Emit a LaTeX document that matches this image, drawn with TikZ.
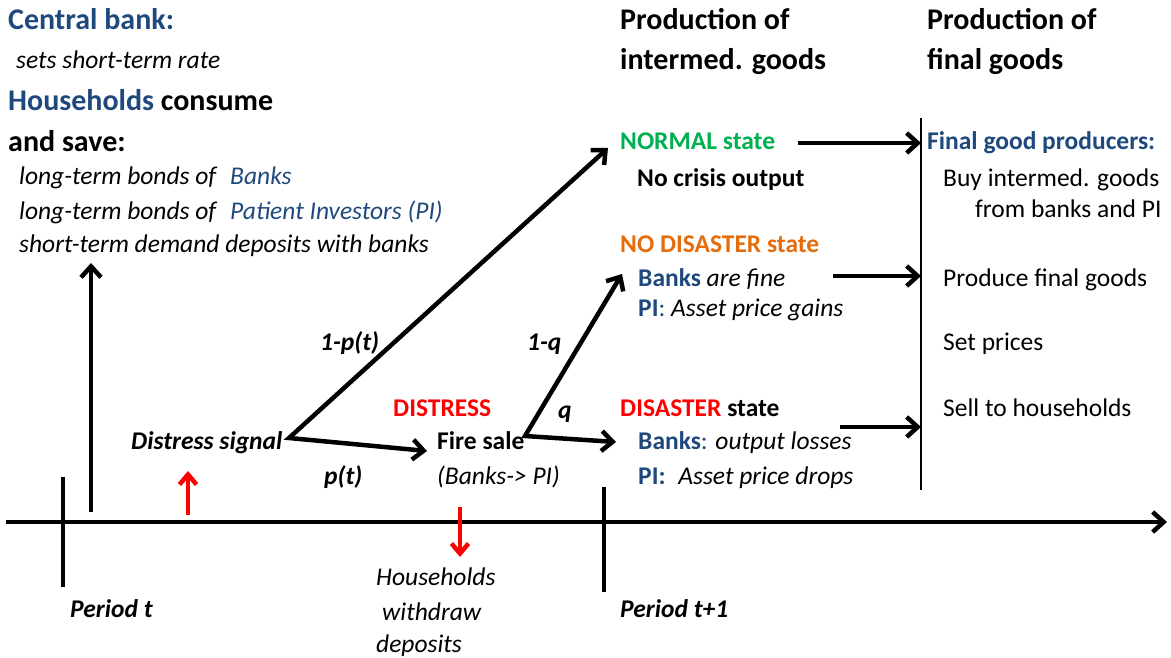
\documentclass[tikz,border=0pt]{standalone}
\usepackage{fontspec}
\setmainfont{Carlito}
\usetikzlibrary{arrows.meta}
\definecolor{dblue}{RGB}{31,73,125}
\definecolor{dgreen}{RGB}{0,176,80}
\definecolor{dorange}{RGB}{228,108,10}
\definecolor{dred}{RGB}{255,0,0}
\begin{document}
\begin{tikzpicture}[x=1pt,y=-1pt,
  txt/.style={anchor=base west,inner sep=0pt,font=\fontsize{25.5}{30}\selectfont},
  head/.style={anchor=base west,inner sep=0pt,font=\fontsize{30}{36}\selectfont\bfseries},
  arr/.style={line width=4.5pt,-{Straight Barb[length=11pt,width=20pt]}},
  arrboth/.style={line width=4.5pt,line join=miter,{Straight Barb[length=11pt,width=20pt]}-{Straight Barb[length=11pt,width=20pt]}},
  redarr/.style={line width=4.5pt,draw=dred,-{Straight Barb[length=10pt,width=17pt]}},
  tick/.style={line width=4pt},
  divider/.style={line width=2pt}]
\useasboundingbox (0,0) rectangle (1171,658);

% left column
\node[head] (cb) at (8,30) {\color{dblue}Central bank:};
\node[txt,font=\fontsize{25.5}{30}\selectfont\itshape] (sets) at (16,69) {sets short-term rate};
\node[head] (hh) at (8,111) {{\color{dblue}Households} consume};
\node[head] (save) at (8,152) {and save:};
\node[txt,font=\fontsize{25.5}{30}\selectfont\itshape] (b1a) at (19,185) {long-term bonds of};
\node[txt,font=\fontsize{25.5}{30}\selectfont\itshape,text=dblue] (b1b) at (230,185) {Banks};
\node[txt,font=\fontsize{25.5}{30}\selectfont\itshape] (b2a) at (19,219) {long-term bonds of};
\node[txt,font=\fontsize{25.5}{30}\selectfont\itshape,text=dblue] (b2b) at (230,219) {Patient Investors (PI)};
\node[txt,font=\fontsize{25.5}{30}\selectfont\itshape] (b3) at (19,252) {short-term demand deposits with banks};

% headings right
\node[head] (pr1) at (620,30) {Production of};
\node[head] (pr1b) at (620,70) {intermed. goods};
\node[head] (pr2) at (927,30) {Production of};
\node[head] (pr2b) at (927,70) {final goods};

% states
\node[txt,font=\fontsize{25.5}{30}\selectfont\bfseries,text=dgreen] (normal) at (620,150) {NORMAL state};
\node[txt,font=\fontsize{25.5}{30}\selectfont\bfseries] (nocrisis) at (637,186) {No crisis output};
\node[txt,font=\fontsize{25.5}{30}\selectfont\bfseries,text=dorange] (nodis) at (620,252) {NO DISASTER state};
\node[txt] (bfine) at (638,286) {{\bfseries\color{dblue}Banks} \itshape are fine};
\node[txt] (pigain) at (638,316) {{\bfseries\color{dblue}PI}{\color{dblue}:} \itshape Asset price gains};
\node[txt,font=\fontsize{25.5}{30}\selectfont\bfseries] (disaster) at (620,416) {{\color{dred}DISASTER} state};
\node[txt] (bloss) at (638,449) {{\bfseries\color{dblue}Banks}{\color{dblue}:} \itshape output losses};
\node[txt] (pidrop) at (638,484) {{\bfseries\color{dblue}PI:}\hspace{0.5em}\itshape Asset price drops};

% final goods column
\node[txt,font=\fontsize{25.5}{30}\selectfont\bfseries,text=dblue] (fgp) at (927,150) {Final good producers:};
\node[txt] (buy) at (943,186) {Buy intermed. goods};
\node[txt] (from) at (975,218) {from banks and PI};
\node[txt] (prodf) at (943,286) {Produce final goods};
\node[txt] (setp) at (943,350) {Set prices};
\node[txt] (sell) at (943,416) {Sell to households};

% tree labels
\node[txt,font=\fontsize{25.5}{30}\selectfont\bfseries\itshape] (l1pt) at (320,350) {1-p(t)};
\node[txt,font=\fontsize{25.5}{30}\selectfont\bfseries\itshape] (l1q) at (527,350) {1-q};
\node[txt,font=\fontsize{25.5}{30}\selectfont\bfseries,text=dred] (distress) at (393,416) {DISTRESS};
\node[txt,font=\fontsize{25.5}{30}\selectfont\bfseries\itshape] (lq) at (558,418) {q};
\node[txt,font=\fontsize{25.5}{30}\selectfont\bfseries\itshape] (dsig) at (131,449) {Distress signal};
\node[txt,font=\fontsize{25.5}{30}\selectfont\bfseries] (fire) at (437,449) {Fire sale};
\node[txt,font=\fontsize{25.5}{30}\selectfont\bfseries\itshape] (lpt) at (324,484) {p(t)};
\node[txt,font=\fontsize{25.5}{30}\selectfont\itshape] (bpi) at (437,484) {(Banks-> PI)};

% bottom labels
\node[txt,font=\fontsize{25.5}{30}\selectfont\itshape] (hw1) at (376,585) {Households};
\node[txt,font=\fontsize{25.5}{30}\selectfont\itshape] (hw2) at (382,620) {withdraw};
\node[txt,font=\fontsize{25.5}{30}\selectfont\itshape] (hw3) at (376,652) {deposits};
\node[txt,font=\fontsize{25.5}{30}\selectfont\bfseries\itshape] (per1) at (70,617) {Period t};
\node[txt,font=\fontsize{25.5}{30}\selectfont\bfseries\itshape] (per2) at (620,617) {Period t+1};

% coordinates
\coordinate (dsigE) at (289,438);
\coordinate (normW) at (608,148);
\coordinate (fireW) at (427,451);
\coordinate (fireE) at (525,436);
\coordinate (nodisW) at (622,274);
\coordinate (disW) at (616,442);
\coordinate (n1) at (798,143);
\coordinate (d1) at (921,143);
\coordinate (n2) at (833,276);
\coordinate (d2) at (921,276);
\coordinate (n3) at (840,427);
\coordinate (d3) at (921,427);
\coordinate (divT) at (921,118);
\coordinate (divB) at (921,490);
\coordinate (ax0) at (6,522);
\coordinate (ax1) at (1167,522);
\coordinate (t1a) at (63,477);
\coordinate (t1b) at (63,587);
\coordinate (t2a) at (604,487);
\coordinate (t2b) at (604,592);
\coordinate (upA) at (91,512);
\coordinate (upB) at (91,263);
\coordinate (rA) at (188,515);
\coordinate (rB) at (188,471);
\coordinate (rC) at (460,507);
\coordinate (rD) at (460,557);

% lines
\draw[divider] (divT) -- (divB);
\draw[arr] (ax0) -- (ax1);
\draw[tick] (t1a) -- (t1b);
\draw[tick] (t2a) -- (t2b);
\draw[arr] (upA) -- (upB);
\draw[redarr] (rA) -- (rB);
\draw[redarr] (rC) -- (rD);
\draw[arrboth] (normW) -- (dsigE) -- (fireW);
\draw[arrboth] (nodisW) -- (fireE) -- (disW);
\draw[arr] (n1) -- (d1);
\draw[arr] (n2) -- (d2);
\draw[arr] (n3) -- (d3);
\end{tikzpicture}
\end{document}
